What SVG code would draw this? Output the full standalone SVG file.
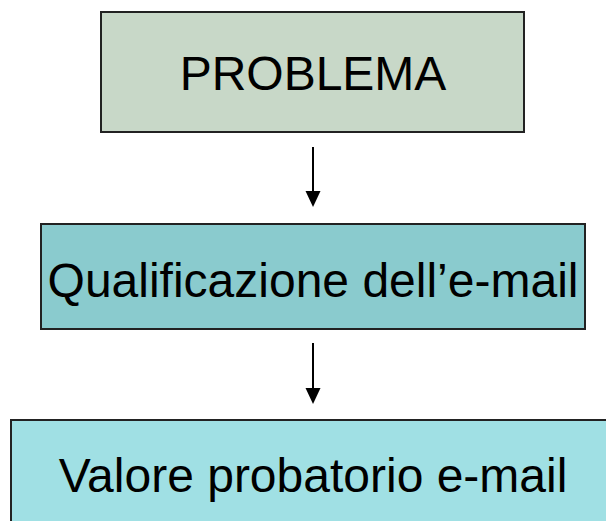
<svg xmlns="http://www.w3.org/2000/svg" width="606" height="521" viewBox="0 0 606 521">
<style>
.box{stroke:#222;stroke-width:2}
.lbl{font-family:"Liberation Sans",Arial,sans-serif;font-size:48px;fill:#000;text-anchor:middle}
.conn{stroke:#000;stroke-width:2;fill:none}
</style>
<defs>
<marker id="ah" markerWidth="8" markerHeight="8" refX="7.5" refY="4" orient="auto" markerUnits="userSpaceOnUse" viewBox="0 0 8 8">
<path d="M0,0 L8,4 L0,8 Z" fill="#000"/>
</marker>
</defs>
<rect width="606" height="521" fill="#fff"/>
<g id="connectors">
<line class="conn" x1="313" y1="147" x2="313" y2="191"/>
<path d="M305.5,191 L320.5,191 L313,207 Z" fill="#000"/>
<line class="conn" x1="313" y1="343" x2="313" y2="388"/>
<path d="M305.5,388 L320.5,388 L313,404 Z" fill="#000"/>
</g>
<g id="node-problema">
<rect class="box" x="101" y="12" width="423" height="120" fill="#c8d8c8"/>
<text class="lbl" x="313" y="90">PROBLEMA</text>
</g>
<g id="node-qualificazione">
<rect class="box" x="41" y="224" width="544" height="105" fill="#8acbce"/>
<text class="lbl" x="313" y="297">Qualificazione dell’e-mail</text>
</g>
<g id="node-valore">
<rect class="box" x="11" y="420" width="604" height="110" fill="#a0e0e4"/>
<text class="lbl" x="313" y="492">Valore probatorio e-mail</text>
</g>
</svg>
